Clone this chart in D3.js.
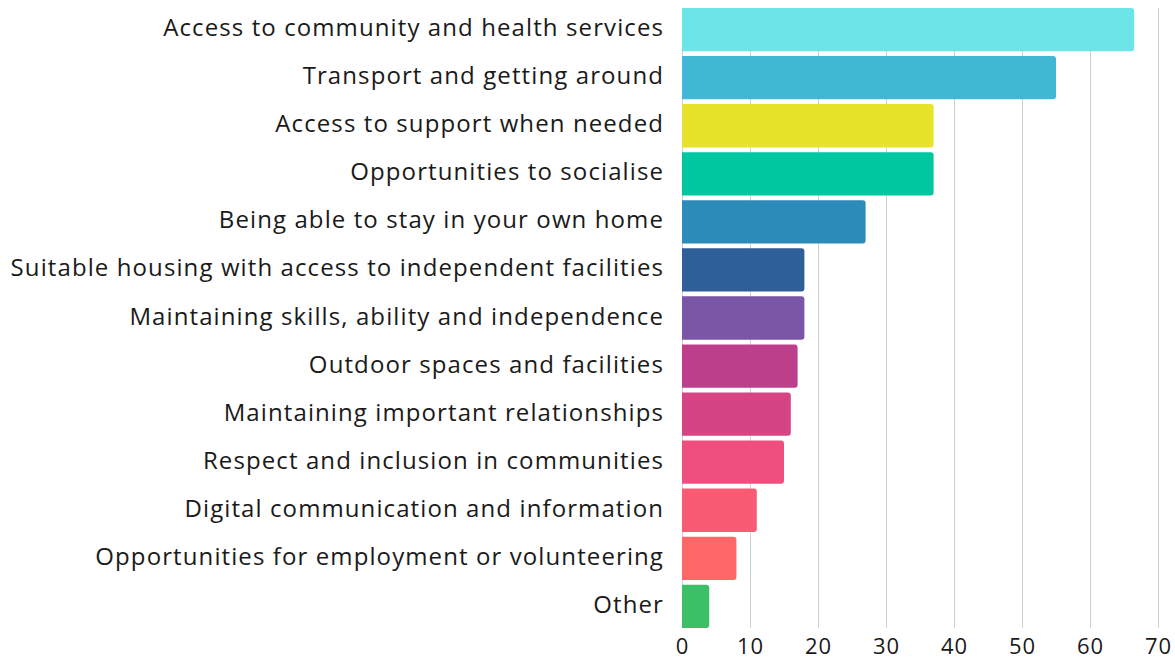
<!DOCTYPE html>
<html>
<head>
<meta charset="utf-8">
<script src="https://cdn.jsdelivr.net/npm/d3@7"></script>
<style>
  html, body { margin: 0; padding: 0; background: #fff; }
  svg { display: block; }
  text { font-family: "Open Sans", sans-serif; fill: #1a1a1a; }
</style>
</head>
<body>
<svg id="chart" width="1175" height="661"></svg>
<script>
const categories = [
  "Access to community and health services",
  "Transport and getting around",
  "Access to support when needed",
  "Opportunities to socialise",
  "Being able to stay in your own home",
  "Suitable housing with access to independent facilities",
  "Maintaining skills, ability and independence",
  "Outdoor spaces and facilities",
  "Maintaining important relationships",
  "Respect and inclusion in communities",
  "Digital communication and information",
  "Opportunities for employment or volunteering",
  "Other"
];
const values = [66.5, 55, 37, 37, 27, 18, 18, 17, 16, 15, 11, 8, 4];
const colors = [
  "#6ce5e8", "#41b8d5", "#e7e22a", "#00c7a0", "#2d8bba", "#2e5f98",
  "#7b56a6", "#bd3f8c", "#d54586", "#ef4f7e", "#f95b74", "#fe6768", "#3bbf67"
];
const tickValues = [0, 10, 20, 30, 40, 50, 60, 70];

const svg = d3.select("#chart");
const x0 = 682, x1 = 1158, yTop = 8, yBot = 628;

const x = d3.scaleLinear().domain([0, 70]).range([x0, x1]);
const y = d3.scaleBand().domain(categories).range([yTop, yBot]).paddingInner(0.1).paddingOuter(0);

// gridlines
svg.append("g").selectAll("line").data(tickValues).join("line")
  .attr("x1", d => Math.round(x(d)) + 0.5).attr("x2", d => Math.round(x(d)) + 0.5)
  .attr("y1", yTop).attr("y2", yBot)
  .attr("stroke", "#d0d0d0").attr("stroke-width", 1);

// bars with rounded right corners
const r = 3;
function barPath(d, i) {
  const xa = x(0), xb = x(d), ya = y(categories[i]), h = y.bandwidth();
  const rr = Math.min(r, (xb - xa) / 2);
  return `M${xa},${ya} H${xb - rr} Q${xb},${ya} ${xb},${ya + rr} V${ya + h - rr} Q${xb},${ya + h} ${xb - rr},${ya + h} H${xa} Z`;
}
svg.append("g").selectAll("path").data(values).join("path")
  .attr("d", barPath)
  .attr("fill", (d, i) => colors[i]);

// category labels
svg.append("g").selectAll("text").data(categories).join("text")
  .attr("x", 664)
  .attr("y", d => y(d) + y.bandwidth() / 2 + 6.5)
  .attr("text-anchor", "end")
  .style("font-size", "24px")
  .style("letter-spacing", "1.1px")
  .text(d => d);

// x axis
const axis = d3.axisBottom(x).tickValues(tickValues).tickSize(0).tickPadding(0);
const gx = svg.append("g").attr("transform", `translate(0,${yBot})`).call(axis);
gx.select(".domain").remove();
gx.selectAll("text")
  .attr("y", 26).attr("dy", null)
  .style("font-size", "22px")
  .style("letter-spacing", "1px")
  .style("font-family", "'Open Sans', sans-serif")
  .attr("fill", "#1a1a1a");
</script>
</body>
</html>
